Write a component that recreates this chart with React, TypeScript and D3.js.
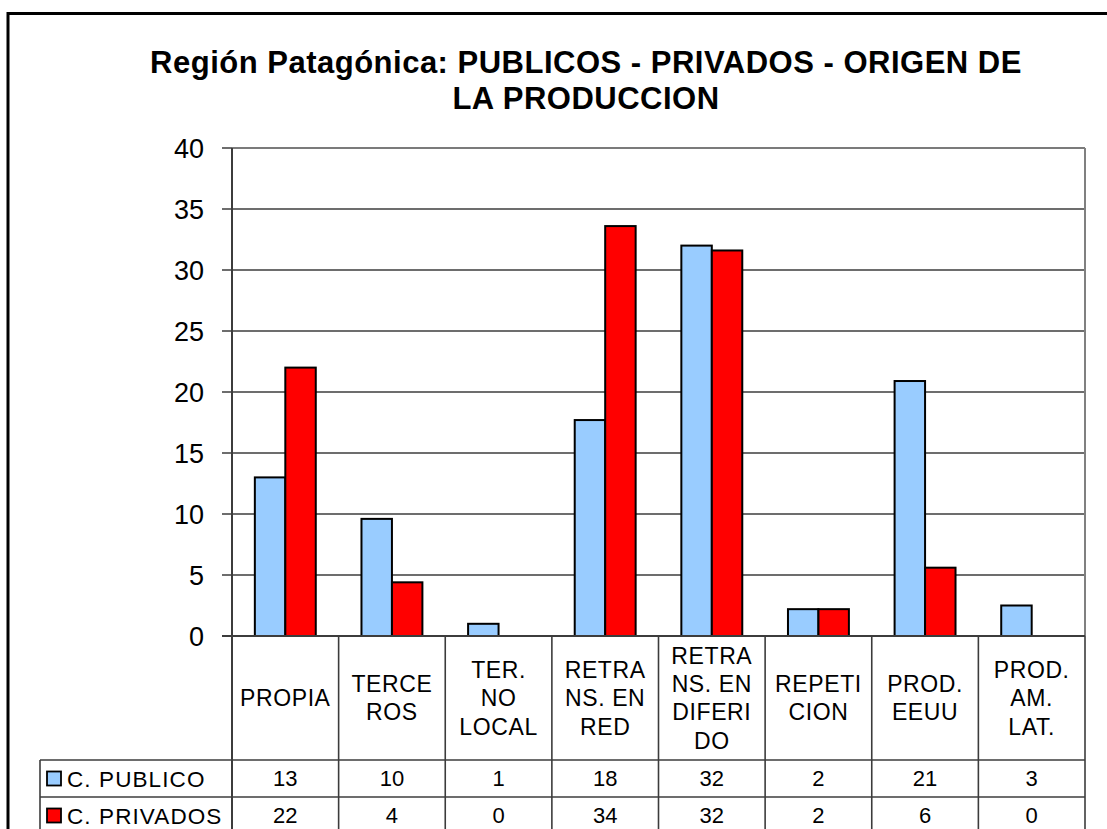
import React from "react";
import * as d3 from "d3";

const categories: string[][] = [
  ["PROPIA"],
  ["TERCE", "ROS"],
  ["TER.", "NO", "LOCAL"],
  ["RETRA", "NS. EN", "RED"],
  ["RETRA", "NS. EN", "DIFERI", "DO"],
  ["REPETI", "CION"],
  ["PROD.", "EEUU"],
  ["PROD.", "AM.", "LAT."],
];
const publico: number[] = [13, 9.6, 1.0, 17.7, 32, 2.2, 20.9, 2.5];
const privados: number[] = [22, 4.4, 0, 33.6, 31.6, 2.2, 5.6, 0];
const publicoLabels: string[] = ["13", "10", "1", "18", "32", "2", "21", "3"];
const privadosLabels: string[] = ["22", "4", "0", "34", "32", "2", "6", "0"];
const seriesNames: string[] = ["C. PUBLICO", "C. PRIVADOS"];
const seriesColors: string[] = ["#99CCFF", "#FF0000"];
const yTicks: number[] = [0, 5, 10, 15, 20, 25, 30, 35, 40];
const titleLines: string[] = [
  "Región Patagónica: PUBLICOS - PRIVADOS - ORIGEN DE",
  "LA PRODUCCION",
];

const FONT = "'Liberation Sans', Arial, sans-serif";

export default function App() {
  const W = 1107;
  const H = 829;
  const left = 232;
  const right = 1085;
  const top = 148;
  const bottom = 636;
  const headerBottom = 760;
  const rowH = 37;
  const tableLeft = 40;

  const idx = categories.map((_, i) => String(i));
  const x = d3.scaleBand<string>().domain(idx).range([left, right]).padding(0);
  const inner = d3
    .scaleBand<string>()
    .domain(["0", "1"])
    .range([0, x.bandwidth()])
    .paddingInner(0)
    .paddingOuter(0.75);
  const y = d3.scaleLinear().domain([0, 40]).range([bottom, top]);

  const series = [publico, privados];
  const labels = [publicoLabels, privadosLabels];

  const catFont = 23;
  const catLine = 28.3;
  const headerCenter = (bottom + headerBottom) / 2;

  return (
    <svg
      width={W}
      height={H}
      style={{ position: "absolute", left: 0, top: 0, background: "#fff" }}
      fontFamily={FONT}
    >
      <rect x={0} y={0} width={W} height={H} fill="#fff" />
      {/* outer frame */}
      <line x1={8} y1={13.5} x2={W} y2={13.5} stroke="#000" strokeWidth={3} />
      <line x1={8} y1={12} x2={8} y2={H} stroke="#000" strokeWidth={3} />

      {/* title */}
      {titleLines.map((t, i) => (
        <text
          key={i}
          x={586}
          y={73 + i * 35.5}
          textAnchor="middle"
          fontSize={31}
          letterSpacing={0.5}
          fontWeight="bold"
          fill="#000"
        >
          {t}
        </text>
      ))}

      {/* gridlines */}
      {yTicks.map((t) => (
        <line
          key={"g" + t}
          x1={left - 10}
          x2={right}
          y1={y(t)}
          y2={y(t)}
          stroke="#3c3c3c"
          strokeWidth={1.6}
        />
      ))}
      {yTicks.map((t) => (
        <text
          key={"t" + t}
          x={204}
          y={y(t) + 0.358 * 27}
          textAnchor="end"
          fontSize={27}
          fill="#000"
        >
          {t}
        </text>
      ))}
      {/* plot border right */}
      <line x1={right} x2={right} y1={top} y2={bottom} stroke="#808080" strokeWidth={2} />
      <line x1={left} x2={right} y1={top} y2={top} stroke="#808080" strokeWidth={1.5} />

      {/* bars */}
      {series.map((vals, s) =>
        vals.map((v, i) =>
          v > 0 ? (
            <rect
              key={"b" + s + "-" + i}
              x={(x(String(i)) as number) + (inner(String(s)) as number)}
              y={y(v)}
              width={inner.bandwidth()}
              height={y(0) - y(v)}
              fill={seriesColors[s]}
              stroke="#000"
              strokeWidth={2}
            />
          ) : null
        )
      )}

      {/* y axis line */}
      <line x1={left} x2={left} y1={top} y2={H} stroke="#3c3c3c" strokeWidth={2} />
      <line x1={left - 10} x2={right} y1={bottom} y2={bottom} stroke="#3c3c3c" strokeWidth={2} />

      {/* table lines */}
      {idx.map((k) => (
        <line
          key={"v" + k}
          x1={(x(k) as number) + x.bandwidth()}
          x2={(x(k) as number) + x.bandwidth()}
          y1={bottom}
          y2={H}
          stroke="#3c3c3c"
          strokeWidth={1.6}
        />
      ))}
      <line x1={tableLeft} x2={tableLeft} y1={headerBottom} y2={H} stroke="#3c3c3c" strokeWidth={1.6} />
      {[0, 1].map((r) => (
        <line
          key={"h" + r}
          x1={tableLeft}
          x2={right}
          y1={headerBottom + r * rowH}
          y2={headerBottom + r * rowH}
          stroke="#3c3c3c"
          strokeWidth={1.6}
        />
      ))}

      {/* category labels */}
      {categories.map((lines, i) =>
        lines.map((ln, j) => (
          <text
            key={"c" + i + "-" + j}
            x={(x(String(i)) as number) + x.bandwidth() / 2}
            y={headerCenter + (j - (lines.length - 1) / 2) * catLine + 0.358 * catFont}
            textAnchor="middle"
            fontSize={catFont}
            letterSpacing={0.6}
            fill="#000"
          >
            {ln}
          </text>
        ))
      )}

      {/* table rows */}
      {labels.map((row, s) => {
        const cy = headerBottom + s * rowH + rowH / 2;
        return (
          <g key={"r" + s}>
            <rect
              x={47}
              y={cy - 7}
              width={14}
              height={14}
              fill={seriesColors[s]}
              stroke="#000"
              strokeWidth={1.8}
            />
            <text x={67} y={cy + 0.358 * 22.5} fontSize={22.5} letterSpacing={1.1} fill="#000">
              {seriesNames[s]}
            </text>
            {row.map((lab, i) => (
              <text
                key={i}
                x={(x(String(i)) as number) + x.bandwidth() / 2}
                y={cy + 0.358 * 22}
                textAnchor="middle"
                fontSize={22}
                fill="#000"
              >
                {lab}
              </text>
            ))}
          </g>
        );
      })}
    </svg>
  );
}
